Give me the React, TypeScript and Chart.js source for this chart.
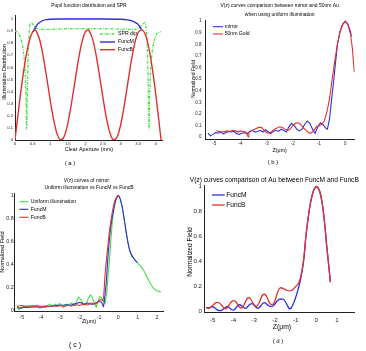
import { useEffect, useRef } from "react";
import { Chart, registerables } from "chart.js";

Chart.register(...registerables);

const FONT = '"Liberation Sans", Arial, Helvetica, sans-serif';
const BLUE = "#2f2fe0";
const RED = "#e2302e";
const GREEN = "#44dd44";

// ---------- (a) pupil functions and SPR dip ----------
const aTicksX = [0, 0.5, 1, 1.5, 2, 2.5, 3, 3.5, 4];
const aTicksY = [0, 0.1, 0.2, 0.3, 0.4, 0.5, 0.6, 0.7, 0.8, 0.9, 1];

const aSprX = [0, 0.05, 0.1, 0.15, 0.2, 0.24, 0.27, 0.29, 0.31, 0.32, 0.33, 0.34, 0.35, 0.37, 0.39, 0.42, 0.45, 0.5, 0.55, 0.6, 0.7, 1.0, 1.5, 2.07, 2.6, 3.1, 3.44, 3.54, 3.59, 3.64, 3.69, 3.72, 3.75, 3.77, 3.79, 3.8, 3.81, 3.82, 3.83, 3.85, 3.87, 3.9, 3.94, 3.99, 4.04, 4.09, 4.15];
const aSprY = [0.9, 0.895, 0.88, 0.85, 0.8, 0.73, 0.64, 0.54, 0.38, 0.25, 0.09, 0.2, 0.4, 0.65, 0.83, 0.94, 0.97, 0.96, 0.94, 0.925, 0.915, 0.915, 0.92, 0.92, 0.92, 0.915, 0.915, 0.925, 0.94, 0.96, 0.97, 0.94, 0.83, 0.65, 0.4, 0.2, 0.09, 0.25, 0.38, 0.54, 0.64, 0.73, 0.8, 0.85, 0.88, 0.89, 0.895];

const aFuncMX = [0.52, 0.56, 0.6, 0.66, 0.72, 0.8, 0.9, 1.0, 1.2, 1.5, 2.0, 2.5, 3.0, 3.2, 3.3, 3.4, 3.48, 3.54, 3.6];
const aFuncMY = [0.895, 0.92, 0.94, 0.962, 0.975, 0.988, 0.995, 0.998, 1, 1, 1, 1, 0.998, 0.993, 0.986, 0.975, 0.96, 0.94, 0.91];

const aFuncBX = [0, 0.1, 0.2, 0.3, 0.4, 0.5, 0.57, 0.6, 0.7, 0.8, 0.9, 1.0, 1.1, 1.2, 1.3, 1.4, 1.5, 1.6, 1.7, 1.8, 1.9, 2.0, 2.07, 2.1, 2.2, 2.3, 2.4, 2.5, 2.6, 2.7, 2.8, 2.9, 3.0, 3.1, 3.2, 3.3, 3.4, 3.5, 3.6, 3.7, 3.8, 3.9, 4.0, 4.1, 4.15];
const aFuncBY = [0, 0.248, 0.477, 0.669, 0.812, 0.893, 0.91, 0.902, 0.828, 0.693, 0.518, 0.33, 0.164, 0.047, 0.0, 0.031, 0.136, 0.294, 0.478, 0.661, 0.807, 0.894, 0.91, 0.905, 0.84, 0.71, 0.535, 0.348, 0.178, 0.056, 0.002, 0.025, 0.122, 0.275, 0.46, 0.645, 0.795, 0.888, 0.91, 0.873, 0.766, 0.596, 0.378, 0.13, 0];

// ---------- (b) mirror vs 50nm gold, uniform illumination ----------
const bTicksX = [-5, -4, -3, -2, -1, 0];
const bTicksY = [0, 0.1, 0.2, 0.3, 0.4, 0.5, 0.6, 0.7, 0.8, 0.9, 1];

const bMirrorX = [-5.24, -5.15, -5.05, -4.95, -4.85, -4.75, -4.65, -4.55, -4.45, -4.35, -4.25, -4.15, -4.05, -3.95, -3.85, -3.75, -3.65, -3.55, -3.45, -3.35, -3.25, -3.15, -3.05, -2.95, -2.85, -2.75, -2.65, -2.55, -2.45, -2.35, -2.25, -2.15, -2.05, -1.95, -1.85, -1.75, -1.65, -1.55, -1.45, -1.35, -1.25, -1.15, -1.05, -0.95, -0.85, -0.75, -0.68, -0.6, -0.5, -0.45, -0.4, -0.3, -0.2, -0.1, 0, 0.1, 0.2, 0.23];
const bMirrorY = [0.035, 0.012, 0.025, 0.04, 0.035, 0.045, 0.03, 0.04, 0.05, 0.045, 0.05, 0.03, 0.025, 0.035, 0.04, 0.03, 0.05, 0.06, 0.045, 0.05, 0.06, 0.045, 0.065, 0.05, 0.03, 0.05, 0.06, 0.05, 0.07, 0.06, 0.045, 0.09, 0.12, 0.1, 0.07, 0.055, 0.07, 0.11, 0.14, 0.12, 0.07, 0.035, 0.09, 0.125, 0.11, 0.08, 0.07, 0.16, 0.37, 0.47, 0.58, 0.8, 0.91, 0.975, 1.0, 0.975, 0.91, 0.87];

const bGoldX = [-4.92, -4.8, -4.7, -4.6, -4.5, -4.4, -4.3, -4.2, -4.1, -4.0, -3.9, -3.8, -3.74, -3.71, -3.68, -3.6, -3.5, -3.4, -3.3, -3.2, -3.1, -3.0, -2.9, -2.8, -2.7, -2.6, -2.5, -2.4, -2.3, -2.2, -2.1, -2.0, -1.9, -1.8, -1.7, -1.6, -1.5, -1.4, -1.3, -1.2, -1.1, -1.0, -0.9, -0.8, -0.7, -0.6, -0.5, -0.4, -0.3, -0.2, -0.1, 0, 0.1, 0.2, 0.27, 0.33, 0.35];
const bGoldY = [0.055, 0.05, 0.045, 0.05, 0.055, 0.05, 0.06, 0.055, 0.045, 0.055, 0.05, 0.045, 0.02, 0.005, 0.04, 0.055, 0.065, 0.075, 0.085, 0.085, 0.06, 0.04, 0.035, 0.05, 0.07, 0.08, 0.09, 0.085, 0.07, 0.06, 0.07, 0.1, 0.12, 0.125, 0.11, 0.08, 0.06, 0.04, 0.035, 0.06, 0.09, 0.1, 0.11, 0.14, 0.22, 0.33, 0.5, 0.66, 0.8, 0.91, 0.97, 1.0, 0.97, 0.89, 0.77, 0.6, 0.56];

// ---------- (c) mirror: uniform illumination vs FuncM vs FuncB ----------
const cTicksX = [-5, -4, -3, -2, -1, 0, 1, 2];
const cTicksY = [0, 0.2, 0.4, 0.6, 0.8, 1];

const cUniformX = [-5.24, -5.15, -5.05, -4.95, -4.85, -4.75, -4.65, -4.55, -4.45, -4.35, -4.25, -4.15, -4.05, -3.95, -3.85, -3.75, -3.65, -3.55, -3.45, -3.35, -3.25, -3.15, -3.05, -2.95, -2.85, -2.75, -2.65, -2.55, -2.45, -2.35, -2.25, -2.15, -2.05, -1.95, -1.85, -1.75, -1.65, -1.55, -1.45, -1.35, -1.25, -1.15, -1.05, -0.95, -0.85, -0.75, -0.68, -0.6, -0.5, -0.45, -0.4, -0.3, -0.2, -0.1, 0, 0.1, 0.2, 0.3, 0.4, 0.5, 0.6, 0.7, 0.8, 0.9, 1.0, 1.1, 1.2, 1.3, 1.4, 1.5, 1.6, 1.7, 1.8, 1.9, 2.0, 2.1, 2.21];
const cUniformY = [0.035, 0.012, 0.025, 0.04, 0.035, 0.045, 0.03, 0.04, 0.05, 0.045, 0.05, 0.03, 0.025, 0.035, 0.04, 0.03, 0.05, 0.06, 0.045, 0.05, 0.06, 0.045, 0.065, 0.05, 0.03, 0.05, 0.06, 0.05, 0.07, 0.06, 0.045, 0.09, 0.12, 0.1, 0.07, 0.055, 0.07, 0.11, 0.14, 0.12, 0.07, 0.035, 0.09, 0.125, 0.11, 0.08, 0.07, 0.16, 0.37, 0.47, 0.58, 0.8, 0.91, 0.975, 1.0, 0.97, 0.9, 0.8, 0.69, 0.59, 0.52, 0.48, 0.455, 0.435, 0.415, 0.4, 0.38, 0.355, 0.325, 0.29, 0.255, 0.225, 0.2, 0.185, 0.175, 0.17, 0.167];

const cFuncMX = [-5.25, -5.1, -4.9, -4.7, -4.5, -4.3, -4.1, -3.9, -3.7, -3.5, -3.3, -3.1, -2.9, -2.7, -2.5, -2.3, -2.1, -2.0, -1.9, -1.8, -1.7, -1.6, -1.5, -1.4, -1.3, -1.2, -1.1, -1.0, -0.9, -0.82, -0.77, -0.7, -0.64, -0.52, -0.4, -0.3, -0.17, -0.08, 0, 0.1, 0.2, 0.3, 0.4, 0.5, 0.6, 0.7, 0.8, 0.9, 0.98];
const cFuncMY = [0.03, 0.025, 0.03, 0.03, 0.035, 0.035, 0.035, 0.035, 0.04, 0.04, 0.045, 0.05, 0.05, 0.055, 0.05, 0.06, 0.07, 0.075, 0.07, 0.06, 0.06, 0.07, 0.065, 0.06, 0.06, 0.07, 0.075, 0.08, 0.08, 0.06, 0.037, 0.13, 0.22, 0.51, 0.72, 0.83, 0.94, 0.985, 1.0, 0.97, 0.9, 0.8, 0.69, 0.59, 0.52, 0.48, 0.455, 0.435, 0.42];

const cFuncBX = [-5.25, -5.0, -4.8, -4.6, -4.4, -4.2, -4.0, -3.8, -3.6, -3.4, -3.2, -3.0, -2.8, -2.6, -2.4, -2.2, -2.0, -1.8, -1.6, -1.4, -1.2, -1.0, -0.9, -0.8, -0.75, -0.69, -0.6, -0.52, -0.43, -0.34, -0.25, -0.17, -0.08, 0, 0.05];
const cFuncBY = [0.04, 0.048, 0.042, 0.045, 0.038, 0.046, 0.04, 0.044, 0.037, 0.045, 0.041, 0.047, 0.04, 0.05, 0.043, 0.055, 0.048, 0.06, 0.052, 0.07, 0.062, 0.09, 0.1, 0.09, 0.15, 0.31, 0.47, 0.6, 0.73, 0.83, 0.91, 0.96, 0.99, 1.0, 0.99];

// ---------- (d) gold: FuncM vs FuncB ----------
const dTicksX = [-5, -4, -3, -2, -1, 0, 1];
const dTicksY = [0, 0.2, 0.4, 0.6, 0.8, 1];

const dZ = [-5.31, -5.2, -5.1, -5.0, -4.9, -4.8, -4.7, -4.6, -4.5, -4.4, -4.3, -4.2, -4.1, -4.0, -3.9, -3.8, -3.7, -3.6, -3.5, -3.4, -3.3, -3.2, -3.1, -3.0, -2.9, -2.8, -2.7, -2.6, -2.5, -2.4, -2.3, -2.2, -2.1, -2.0, -1.9, -1.8, -1.7, -1.6, -1.5, -1.4, -1.3, -1.2, -1.1, -1.0, -0.9, -0.8, -0.7, -0.6, -0.5, -0.4, -0.3, -0.2, -0.1, 0, 0.1, 0.2, 0.3, 0.4, 0.5, 0.6, 0.68];
const dFuncMY = [0.033, 0.03, 0.035, 0.038, 0.028, 0.015, 0.007, 0.008, 0.018, 0.032, 0.04, 0.03, 0.016, 0.011, 0.025, 0.048, 0.054, 0.045, 0.03, 0.026, 0.042, 0.058, 0.063, 0.05, 0.032, 0.026, 0.042, 0.063, 0.071, 0.06, 0.046, 0.04, 0.042, 0.06, 0.082, 0.096, 0.1, 0.098, 0.08, 0.05, 0.022, 0.03, 0.065, 0.11, 0.165, 0.225, 0.31, 0.42, 0.6, 0.74, 0.85, 0.93, 0.98, 1.0, 0.985, 0.94, 0.85, 0.71, 0.53, 0.37, 0.235];
const dFuncBY = [0.03, 0.025, 0.035, 0.05, 0.065, 0.073, 0.07, 0.055, 0.035, 0.022, 0.03, 0.055, 0.078, 0.087, 0.08, 0.058, 0.032, 0.028, 0.05, 0.085, 0.11, 0.105, 0.08, 0.05, 0.04, 0.058, 0.095, 0.13, 0.138, 0.12, 0.085, 0.057, 0.056, 0.085, 0.14, 0.18, 0.19, 0.185, 0.175, 0.168, 0.165, 0.168, 0.18, 0.2, 0.215, 0.25, 0.32, 0.43, 0.61, 0.74, 0.85, 0.93, 0.98, 1.0, 0.985, 0.94, 0.85, 0.71, 0.53, 0.37, 0.235];

interface Series {
  label: string;
  x: number[];
  y: number[];
  color: string;
  width: number;
  dash?: number[];
  smooth: boolean;
}
interface TextItem {
  text: string;
  x: number;
  y: number;
  size: number;
  rotate?: boolean;
}
interface Panel {
  left: number;
  top: number;
  w: number;
  h: number;
  plot: { l: number; t: number; r: number; b: number };
  xRange: [number, number];
  yRange: [number, number];
  xTicks: number[];
  yTicks: number[];
  tickSize: number;
  xPad: number;
  yPad: number;
  texts: TextItem[];
  legend: { x1: number; x2: number; tx: number; rows: number[]; size: number };
  series: Series[];
}

const PANELS: Panel[] = [
  {
    left: 0, top: 0, w: 183, h: 175,
    plot: { l: 15, t: 15, r: 162.8, b: 140 },
    xRange: [0, 4.2], yRange: [0, 1.033],
    xTicks: aTicksX, yTicks: aTicksY,
    tickSize: 4.2, xPad: 1.2, yPad: 2,
    texts: [
      { text: "Pupil function distribution and SPR", x: 89, y: 6, size: 4.9 },
      { text: "Illumination Distribution", x: 4.3, y: 72, size: 5.4, rotate: true },
      { text: "Clear Aperture (mm)", x: 89, y: 150, size: 5.3 },
      { text: "( a )", x: 70, y: 163, size: 6 },
    ],
    legend: { x1: 100, x2: 115, tx: 118, rows: [34, 42, 49.7], size: 5.2 },
    series: [
      { label: "SPR dip", x: aSprX, y: aSprY, color: GREEN, width: 1.3, dash: [2.6, 1.2, 0.8, 1.2], smooth: true },
      { label: "FuncM", x: aFuncMX, y: aFuncMY, color: BLUE, width: 1.4, smooth: true },
      { label: "FuncB", x: aFuncBX, y: aFuncBY, color: RED, width: 1.4, smooth: true },
    ],
  },
  {
    left: 183, top: 0, w: 183, h: 175,
    plot: { l: 22.1, t: 20.1, r: 171.7, b: 139 },
    xRange: [-5.35, 0.36], yRange: [-0.015, 1.01],
    xTicks: bTicksX, yTicks: bTicksY,
    tickSize: 4.5, xPad: 2.2, yPad: 3.6,
    texts: [
      { text: "V(z) curves comparison between mirror and 50nm Au", x: 96.7, y: 6, size: 5 },
      { text: "when using uniform illumination", x: 96.7, y: 15, size: 5 },
      { text: "Normalized Field", x: 10.3, y: 79, size: 5.1, rotate: true },
      { text: "Z(μm)", x: 96.7, y: 151, size: 5.3 },
      { text: "( b )", x: 90, y: 162, size: 6 },
    ],
    legend: { x1: 30, x2: 40, tx: 41.7, rows: [26.7, 34], size: 5.1 },
    series: [
      { label: "mirror", x: bMirrorX, y: bMirrorY, color: BLUE, width: 1.1, smooth: false },
      { label: "50nm Gold", x: bGoldX, y: bGoldY, color: RED, width: 1.1, smooth: false },
    ],
  },
  {
    left: 0, top: 175, w: 183, h: 176,
    plot: { l: 14.9, t: 18.3, r: 163.3, b: 136.6 },
    xRange: [-5.36, 2.33], yRange: [-0.005, 1.02],
    xTicks: cTicksX, yTicks: cTicksY,
    tickSize: 5.3, xPad: 2.3, yPad: 1.2,
    texts: [
      { text: "V(z) curves of mirror:", x: 87, y: 5.7, size: 5 },
      { text: "Uniform illumination vs FuncM vs FuncB", x: 89, y: 12.7, size: 5 },
      { text: "Normalized Field", x: 2.8, y: 77, size: 5.5, rotate: true },
      { text: "Z(μm)", x: 89, y: 147, size: 5.3 },
      { text: "( c )", x: 75, y: 170, size: 7 },
    ],
    legend: { x1: 19.3, x2: 28.3, tx: 30.7, rows: [26.7, 34.3, 42.3], size: 5.2 },
    series: [
      { label: "Uniform illumination", x: cUniformX, y: cUniformY, color: GREEN, width: 1.1, smooth: false },
      { label: "FuncM", x: cFuncMX, y: cFuncMY, color: BLUE, width: 1.1, smooth: true },
      { label: "FuncB", x: cFuncBX, y: cFuncBY, color: RED, width: 1.1, smooth: true },
    ],
  },
  {
    left: 183, top: 175, w: 183, h: 176,
    plot: { l: 21.7, t: 10, r: 171.8, b: 137.75 },
    xRange: [-5.39, 1.86], yRange: [-0.01, 1.012],
    xTicks: dTicksX, yTicks: dTicksY,
    tickSize: 6.1, xPad: 3.6, yPad: 2.7,
    texts: [
      { text: "V(z) curves comparison of Au between FuncM and FuncB", x: 91.3, y: 5, size: 6.6 },
      { text: "Normalized Field", x: 7, y: 77, size: 6.6, rotate: true },
      { text: "Z(μm)", x: 99, y: 151.7, size: 6.8 },
      { text: "( d )", x: 95, y: 166.7, size: 6 },
    ],
    legend: { x1: 29, x2: 41.7, tx: 43.3, rows: [20, 30], size: 6.6 },
    series: [
      { label: "FuncM", x: dZ, y: dFuncMY, color: BLUE, width: 1.3, smooth: true },
      { label: "FuncB", x: dZ, y: dFuncBY, color: RED, width: 1.3, smooth: true },
    ],
  },
];

function makeChart(canvas: HTMLCanvasElement, p: Panel): Chart {
  const n = p.series.length;

  // titles, axis names and the panel caption
  const textPlugin = {
    id: "panelText",
    afterDraw(chart: Chart) {
      const ctx = chart.ctx;
      ctx.save();
      ctx.fillStyle = "#000";
      ctx.textAlign = "center";
      ctx.textBaseline = "middle";
      for (const t of p.texts) {
        ctx.font = `${t.size}px ${FONT}`;
        if (t.rotate) {
          ctx.save();
          ctx.translate(t.x, t.y);
          ctx.rotate(-Math.PI / 2);
          ctx.fillText(t.text, 0, 0);
          ctx.restore();
        } else {
          ctx.fillText(t.text, t.x, t.y);
        }
      }
      ctx.restore();
    },
  };

  // legend placed inside the axes
  const legendPlugin = {
    id: "inlineLegend",
    afterDraw(chart: Chart) {
      const ctx = chart.ctx;
      const lg = p.legend;
      ctx.save();
      ctx.font = `${lg.size}px ${FONT}`;
      ctx.textAlign = "left";
      ctx.textBaseline = "middle";
      chart.data.datasets.forEach((ds: any, i: number) => {
        const y = lg.rows[i];
        ctx.strokeStyle = ds.borderColor;
        ctx.lineWidth = ds.borderWidth;
        ctx.setLineDash(ds.borderDash || []);
        ctx.beginPath();
        ctx.moveTo(lg.x1, y);
        ctx.lineTo(lg.x2, y);
        ctx.stroke();
        ctx.setLineDash([]);
        ctx.fillStyle = "#000";
        ctx.fillText(ds.label, lg.tx, y);
      });
      ctx.restore();
    },
  };

  const tickFont = { family: FONT, size: p.tickSize };

  return new Chart(canvas, {
    type: "line",
    data: {
      datasets: p.series.map((s, i) => ({
        label: s.label,
        data: s.x.map((x, k) => ({ x, y: s.y[k] })),
        borderColor: s.color,
        backgroundColor: s.color,
        borderWidth: s.width,
        borderDash: s.dash || [],
        pointRadius: 0,
        fill: false,
        tension: 0,
        cubicInterpolationMode: s.smooth ? "monotone" : "default",
        order: n - i,
      })),
    },
    options: {
      responsive: false,
      animation: false,
      devicePixelRatio: 1,
      events: [],
      layout: {
        autoPadding: false,
        padding: { left: 0, top: p.plot.t, right: p.w - p.plot.r, bottom: 0 },
      },
      plugins: {
        legend: { display: false },
        tooltip: { enabled: false },
        title: { display: false },
      },
      scales: {
        x: {
          type: "linear",
          min: p.xRange[0],
          max: p.xRange[1],
          grid: { display: false, drawTicks: false },
          border: { display: true, color: "#222", width: 1 },
          ticks: {
            font: tickFont,
            color: "#222",
            padding: p.xPad,
            maxRotation: 0,
            autoSkip: false,
            callback: (v: any) => String(v),
          },
          afterBuildTicks: (scale: any) => {
            scale.ticks = p.xTicks.map((v) => ({ value: v }));
          },
          afterFit: (scale: any) => {
            scale.height = p.h - p.plot.b;
          },
        },
        y: {
          type: "linear",
          min: p.yRange[0],
          max: p.yRange[1],
          grid: { display: false, drawTicks: false },
          border: { display: true, color: "#222", width: 1 },
          ticks: {
            font: tickFont,
            color: "#222",
            padding: p.yPad,
            autoSkip: false,
            callback: (v: any) => String(v),
          },
          afterBuildTicks: (scale: any) => {
            scale.ticks = p.yTicks.map((v) => ({ value: v }));
          },
          afterFit: (scale: any) => {
            scale.width = p.plot.l;
          },
        },
      },
    } as any,
    plugins: [textPlugin, legendPlugin],
  });
}

export default function App() {
  const canvases = useRef<(HTMLCanvasElement | null)[]>([]);

  useEffect(() => {
    const charts = PANELS.map((p, i) => makeChart(canvases.current[i] as HTMLCanvasElement, p));
    return () => charts.forEach((c) => c.destroy());
  }, []);

  return (
    <div
      style={{
        position: "fixed",
        left: 0,
        top: 0,
        width: 366,
        height: 351,
        background: "#fff",
        overflow: "hidden",
      }}
    >
      {PANELS.map((p, i) => (
        <canvas
          key={i}
          ref={(el) => {
            canvases.current[i] = el;
          }}
          width={p.w}
          height={p.h}
          style={{ position: "absolute", left: p.left, top: p.top, width: p.w, height: p.h }}
        />
      ))}
    </div>
  );
}
